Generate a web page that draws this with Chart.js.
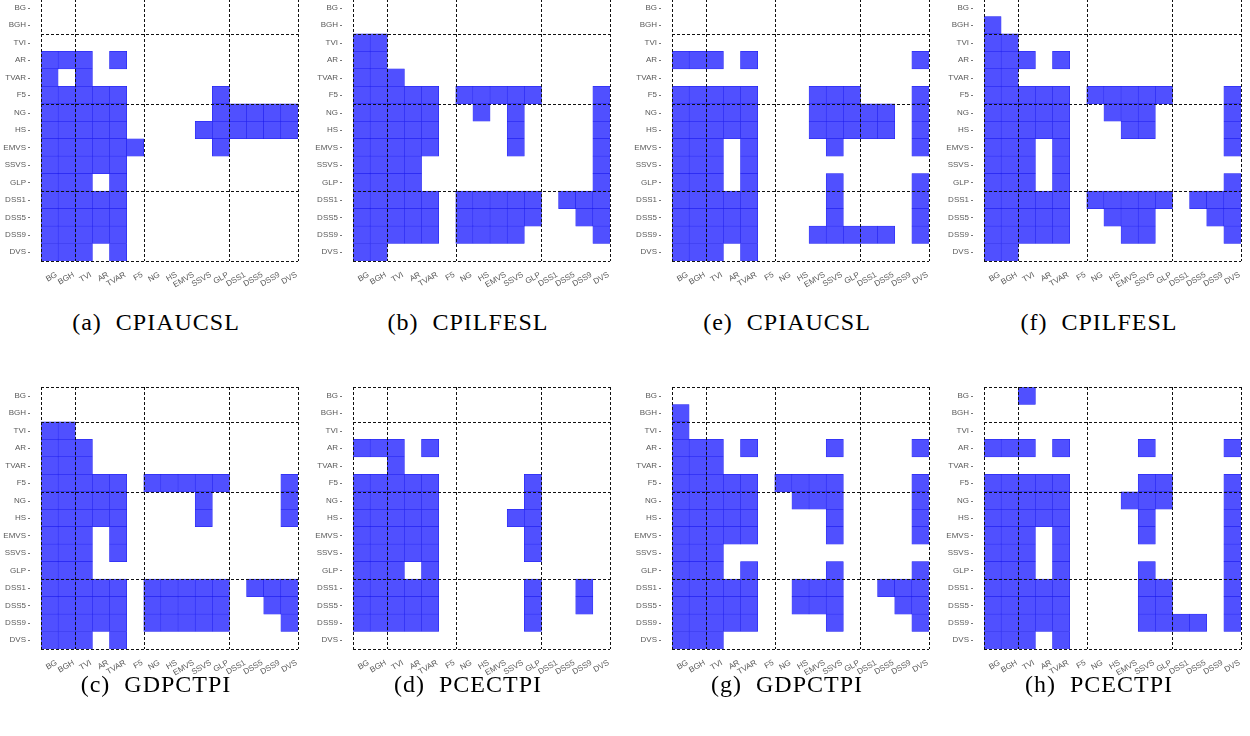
<!DOCTYPE html>
<html>
<head>
<meta charset="utf-8">
<script src="https://cdn.jsdelivr.net/npm/chart.js@4/dist/chart.umd.min.js"></script>
<style>
  html, body { margin: 0; padding: 0; background: #fff; }
  body { width: 1250px; height: 736px; position: relative; overflow: hidden; }
  .panel { position: absolute; width: 304px; height: 301px; }
  .caption {
    position: absolute; width: 300px; text-align: center; white-space: pre;
    font-family: "Liberation Serif", "DejaVu Serif", serif; font-size: 24px;
    letter-spacing: 1px; color: #000;
  }
</style>
</head>
<body>
<div class="panel" id="wrap-a" style="left:0px;top:-8px"><canvas id="pa"></canvas></div>
<div class="panel" id="wrap-b" style="left:312px;top:-8px"><canvas id="pb"></canvas></div>
<div class="panel" id="wrap-e" style="left:631px;top:-8px"><canvas id="pe"></canvas></div>
<div class="panel" id="wrap-f" style="left:943px;top:-8px"><canvas id="pf"></canvas></div>
<div class="panel" id="wrap-c" style="left:0px;top:380px"><canvas id="pc"></canvas></div>
<div class="panel" id="wrap-d" style="left:312px;top:380px"><canvas id="pd"></canvas></div>
<div class="panel" id="wrap-g" style="left:631px;top:380px"><canvas id="pg"></canvas></div>
<div class="panel" id="wrap-h" style="left:943px;top:380px"><canvas id="ph"></canvas></div>

<div class="caption" style="left:6px;top:309px">(a)  CPIAUCSL</div>
<div class="caption" style="left:318px;top:309px">(b)  CPILFESL</div>
<div class="caption" style="left:637px;top:309px">(e)  CPIAUCSL</div>
<div class="caption" style="left:949px;top:309px">(f)  CPILFESL</div>
<div class="caption" style="left:6px;top:671px">(c)  GDPCTPI</div>
<div class="caption" style="left:318px;top:671px">(d)  PCECTPI</div>
<div class="caption" style="left:637px;top:671px">(g)  GDPCTPI</div>
<div class="caption" style="left:949px;top:671px">(h)  PCECTPI</div>

<script>
// methods on both axes (rows top->bottom, columns left->right)
const methods = ['BG', 'BGH', 'TVI', 'AR', 'TVAR', 'F5', 'NG', 'HS', 'EMVS',
  'SSVS', 'GLP', 'DSS1', 'DSS5', 'DSS9', 'DVS'];

// where the dashed group lines sit (in cell units)
const groupEdges = [0, 2, 6, 11, 15];

// 1 = filled cell, one string per row
const cpiaucslA = [
  '000000000000000',
  '000000000000000',
  '000000000000000',
  '111010000000000',
  '101000000000000',
  '111110000010000',
  '111110000011111',
  '111110000111111',
  '111111000010000',
  '111110000000000',
  '111010000000000',
  '111110000000000',
  '111110000000000',
  '111110000000000',
  '111010000000000',
];

const cpilfeslB = [
  '000000000000000',
  '000000000000000',
  '110000000000000',
  '110000000000000',
  '111000000000000',
  '111110111110001',
  '111110010100001',
  '111110000100001',
  '111110000100001',
  '111100000000001',
  '111100000000001',
  '111110111110111',
  '111110111110011',
  '111110111100001',
  '110000000000000',
];

const gdpctpiC = [
  '000000000000000',
  '000000000000000',
  '110000000000000',
  '111000000000000',
  '111000000000000',
  '111110111110001',
  '111110000100001',
  '111110000100001',
  '111010000000000',
  '111010000000000',
  '111000000000000',
  '111110111110111',
  '111110111110011',
  '111110111110001',
  '111010000000000',
];

const pcectpiD = [
  '000000000000000',
  '000000000000000',
  '000000000000000',
  '111010000000000',
  '001000000000000',
  '111110000010000',
  '111110000010000',
  '111110000110000',
  '111110000010000',
  '111110000010000',
  '111010000000000',
  '111110000010010',
  '111110000010010',
  '111110000010000',
  '000000000000000',
];

const cpiaucslE = [
  '000000000000000',
  '000000000000000',
  '000000000000000',
  '111010000000001',
  '000000000000000',
  '111110001110001',
  '111110001111101',
  '111110001111101',
  '111010000100001',
  '111010000000000',
  '111010000100001',
  '111110000100001',
  '111110000100001',
  '111110001111101',
  '111010000000000',
];

const cpilfeslF = [
  '000000000000000',
  '100000000000000',
  '110000000000000',
  '111010000000000',
  '110000000000000',
  '111110111110001',
  '111110011100001',
  '111110001100001',
  '111010000000001',
  '111010000000000',
  '111010000000001',
  '111110111110111',
  '111110011100011',
  '111110001100001',
  '110000000000000',
];

const gdpctpiG = [
  '000000000000000',
  '100000000000000',
  '100000000000000',
  '111010000100001',
  '111000000000000',
  '111110111100001',
  '111110011100001',
  '111110000100001',
  '111110000100001',
  '111000000000000',
  '111010000100001',
  '111110011100111',
  '111110011100011',
  '111110000100001',
  '111000000000000',
];

const pcectpiH = [
  '001000000000000',
  '000000000000000',
  '000000000000000',
  '111010000100001',
  '000000000000000',
  '111110000110001',
  '111110001110001',
  '111110000100001',
  '111010000100001',
  '111010000000001',
  '111010000100001',
  '111110000110001',
  '111110000110001',
  '111110000111101',
  '111010000000000',
];

const tickColor = '#5a5a5a';
const tickFont = { family: 'Liberation Sans, Arial, sans-serif', size: 8 };

// dashed group lines + the little tick marks next to the row labels
const groupLines = {
  id: 'groupLines',
  afterDatasetsDraw(chart) {
    const { ctx } = chart;
    const xs = chart.scales.x, ys = chart.scales.y;
    const top = ys.getPixelForValue(0), bottom = ys.getPixelForValue(15);
    const left = xs.getPixelForValue(-0.5), right = xs.getPixelForValue(14.5);
    ctx.save();
    ctx.strokeStyle = '#111';
    ctx.lineWidth = 1;
    ctx.setLineDash([3, 2]);
    groupEdges.forEach(b => {
      const px = Math.round(xs.getPixelForValue(b - 0.5)) + 0.5;
      const py = Math.round(ys.getPixelForValue(b)) + 0.5;
      ctx.beginPath();
      ctx.moveTo(px, top);
      ctx.lineTo(px, bottom);
      ctx.stroke();
      ctx.beginPath();
      ctx.moveTo(left, py);
      ctx.lineTo(right, py);
      ctx.stroke();
    });
    ctx.setLineDash([]);
    ctx.strokeStyle = '#777';
    ys.ticks.forEach(t => {
      const py = Math.round(ys.getPixelForValue(t.value)) + 0.5;
      ctx.beginPath();
      ctx.moveTo(left - 13, py);
      ctx.lineTo(left - 11, py);
      ctx.stroke();
    });
    ctx.restore();
  }
};

function toCells(matrix) {
  const cells = [];
  matrix.forEach((row, r) => {
    row.split('').forEach((v, c) => {
      if (v === '1') cells.push({ x: methods[c], y: [r, r + 1] });
    });
  });
  return cells;
}

function renderPanel(id, matrix) {
  new Chart(document.getElementById(id), {
    type: 'bar',
    data: {
      labels: methods,
      datasets: [
        {
          data: toCells(matrix),
          backgroundColor: '#5050ff',
          borderColor: '#1a1aee',
          borderWidth: 0.5,
          borderSkipped: false,
          barPercentage: 1,
          categoryPercentage: 1,
        },
      ],
    },
    options: {
      responsive: true,
      maintainAspectRatio: false,
      animation: false,
      layout: { padding: { top: 7, right: 6, left: 0, bottom: 0 } },
      plugins: {
        legend: { display: false },
        tooltip: { enabled: false },
      },
      scales: {
        x: {
          type: 'category',
          offset: true,
          grid: { display: false, drawTicks: false },
          border: { display: false },
          ticks: {
            autoSkip: false,
            minRotation: 30,
            maxRotation: 30,
            labelOffset: 7,
            padding: 9,
            color: tickColor,
            font: tickFont,
          },
          afterFit(s) {
            s.height = 32;
            s.paddingLeft = 0;
            s.paddingRight = 0;
          },
        },
        y: {
          type: 'linear',
          reverse: true,
          min: 0,
          max: 15,
          grid: { display: false, drawTicks: false },
          border: { display: false },
          afterBuildTicks(s) {
            s.ticks = methods.map((m, i) => ({ value: i + 0.5 }));
          },
          ticks: {
            autoSkip: false,
            padding: 15,
            color: tickColor,
            font: tickFont,
            callback: (v, i) => methods[i],
          },
          afterFit(s) {
            s.width = 41;
            s.paddingTop = 0;
            s.paddingBottom = 0;
          },
        },
      },
    },
    plugins: [groupLines],
  });
}

renderPanel('pa', cpiaucslA);
renderPanel('pb', cpilfeslB);
renderPanel('pe', cpiaucslE);
renderPanel('pf', cpilfeslF);
renderPanel('pc', gdpctpiC);
renderPanel('pd', pcectpiD);
renderPanel('pg', gdpctpiG);
renderPanel('ph', pcectpiH);
</script>
</body>
</html>
